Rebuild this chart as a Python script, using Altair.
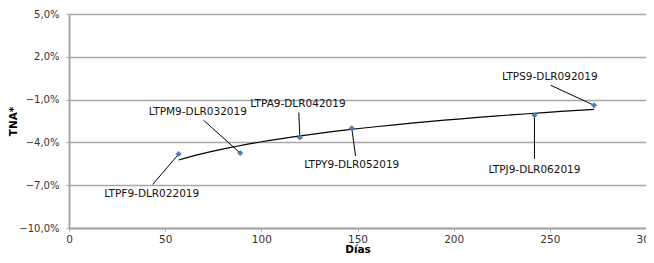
import altair as alt
import pandas as pd

# Data
names = ["LTPF9-DLR022019", "LTPM9-DLR032019", "LTPA9-DLR042019",
         "LTPY9-DLR052019", "LTPJ9-DLR062019", "LTPS9-DLR092019"]
days = [57, 89, 120, 147, 242, 273]
tna = [-4.82, -4.75, -3.66, -3.0, -2.1, -1.4]

# Annotation label anchors (data units) and leader-line starts
label_x = [43, 67, 119, 147, 242, 250]
label_y = [-7.6, -1.9, -1.28, -5.56, -5.9, 0.55]
lead_x = [43.5, 70, 119.5, 149, 242, 250.5]
lead_y = [-6.95, -2.45, -1.9, -4.95, -5.15, 0.0]

y_ticks = [-10, -7, -4, -1, 2, 5]
x_ticks = [0, 50, 100, 150, 200, 250, 300]

df = pd.DataFrame({"name": names, "days": days, "tna": tna,
                   "lx": label_x, "ly": label_y, "ax": lead_x, "ay": lead_y})

FONT = "DejaVu Sans"
GRAY = "#a6a6a6"

xscale = alt.Scale(domain=[0, 300], nice=False)
yscale = alt.Scale(domain=[-10, 5], nice=False)

base = alt.Chart(df)

xaxis = alt.Axis(values=x_ticks, grid=False, title="Días", titleFont=FONT,
                 titleFontSize=10.5, titleFontWeight="bold", titleColor="#000",
                 titlePadding=0, labelFont=FONT, labelFontSize=10.5,
                 labelColor="#333", domainColor=GRAY, domainWidth=2,
                 tickColor=GRAY, tickSize=3, labelPadding=3, labelFlush=False)
yaxis = alt.Axis(values=y_ticks, grid=True, gridColor=GRAY, gridWidth=1.5,
                 title="TNA*", titleFont=FONT, titleFontSize=10.5,
                 titleFontWeight="bold", titleColor="#000", titlePadding=0,
                 labelFont=FONT, labelFontSize=10, labelColor="#333",
                 labelExpr="replace(format(datum.value, '.1f'), '.', ',') + '%'",
                 domainColor=GRAY, domainWidth=2, tickColor=GRAY, tickSize=3,
                 labelPadding=7)

leaders = base.mark_rule(color="#000", strokeWidth=1).encode(
    x=alt.X("ax:Q", scale=xscale, axis=xaxis),
    y=alt.Y("ay:Q", scale=yscale, axis=yaxis),
    x2="days:Q", y2="tna:Q")

trend = base.transform_regression("days", "tna", method="log").mark_line(
    color="#000", strokeWidth=1.2).encode(
    x=alt.X("days:Q", scale=xscale), y=alt.Y("tna:Q", scale=yscale))

points = base.mark_point(shape="diamond", filled=True, size=36,
                         color="#4a7ebb", opacity=1).encode(
    x=alt.X("days:Q", scale=xscale), y=alt.Y("tna:Q", scale=yscale))

labels = base.mark_text(font=FONT, fontSize=10.5, color="#111",
                        align="center", baseline="middle").encode(
    x=alt.X("lx:Q", scale=xscale), y=alt.Y("ly:Q", scale=yscale),
    text="name:N")

chart = alt.layer(leaders, trend, points, labels).properties(
    width=577, height=214,
    autosize=alt.AutoSizeParams(type="none"),
    padding={"left": 61, "top": 6, "right": 0, "bottom": 27},
).configure_view(stroke=None).configure(background="white")

chart.save("out.html", embed_options={"renderer": "svg", "actions": False})
